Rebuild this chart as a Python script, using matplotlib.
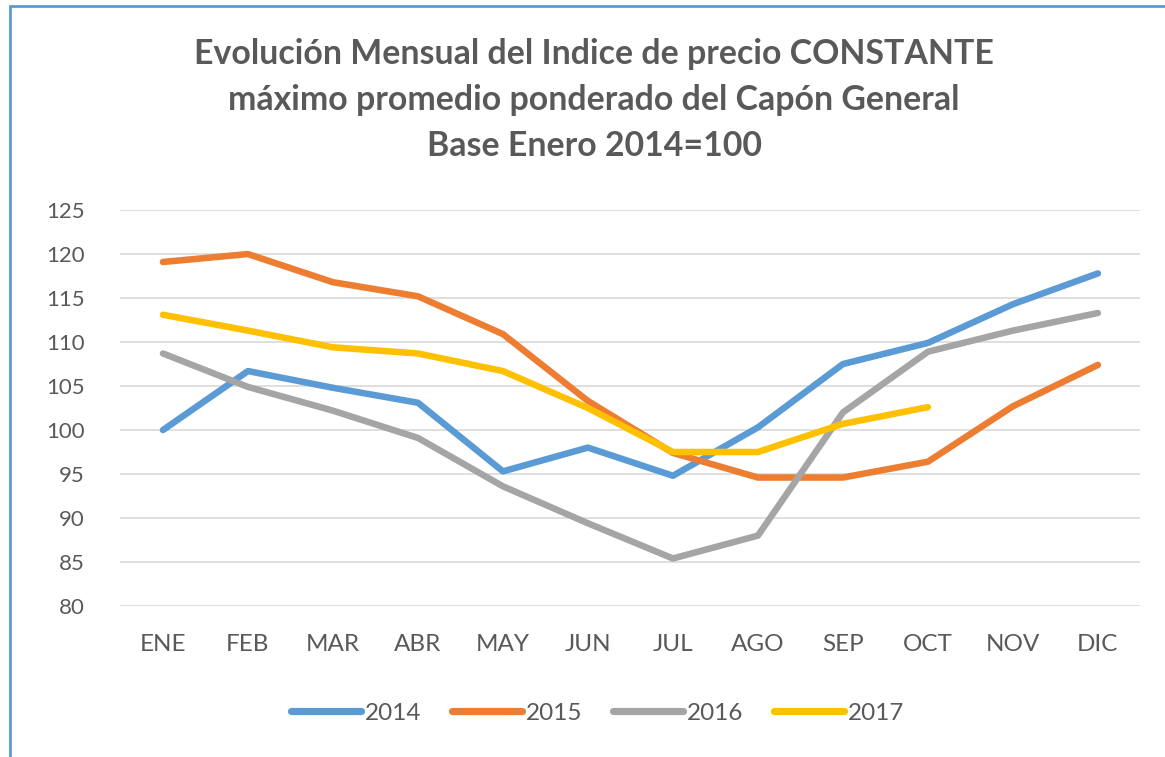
import matplotlib
matplotlib.use("Agg")
import matplotlib.pyplot as plt
from matplotlib.patches import Rectangle
import numpy as np

months = ["ENE", "FEB", "MAR", "ABR", "MAY", "JUN", "JUL", "AGO", "SEP", "OCT", "NOV", "DIC"]
y2014 = [100.0, 106.7, 104.8, 103.1, 95.3, 98.0, 94.8, 100.3, 107.5, 109.9, 114.3, 117.8]
y2015 = [119.1, 120.0, 116.8, 115.2, 110.9, 103.3, 97.4, 94.6, 94.6, 96.4, 102.7, 107.4]
y2016 = [108.7, 104.9, 102.2, 99.1, 93.6, 89.4, 85.4, 88.0, 102.0, 108.9, 111.3, 113.3]
y2017 = [113.1, 111.3, 109.4, 108.7, 106.7, 102.5, 97.5, 97.5, 100.7, 102.6]
yticks = [80, 85, 90, 95, 100, 105, 110, 115, 120, 125]

plt.rcParams['font.family'] = ['Lato', 'DejaVu Sans']
text_color = '#595959'

fig = plt.figure(figsize=(11.65, 7.57), dpi=100)
ax = fig.add_axes([0.1034, 0.1995, 0.8755, 0.523])

x = np.arange(len(months))
series = [
    ("2014", y2014, '#5B9BD5'),
    ("2015", y2015, '#ED7D31'),
    ("2016", y2016, '#A5A5A5'),
    ("2017", y2017, '#FFC000'),
]
for name, vals, col in series:
    ax.plot(x[:len(vals)], vals, color=col, lw=4.7, label=name,
            solid_capstyle='round', solid_joinstyle='round')

ax.set_xlim(-0.5, 11.5)
ax.set_ylim(80, 125)
ax.set_yticks(yticks)
ax.set_xticks(x)
ax.set_xticklabels(months)
ax.grid(axis='y', color='#D9D9D9', lw=1.2)
ax.set_axisbelow(True)
for s in ax.spines.values():
    s.set_visible(False)
ax.tick_params(length=0, colors=text_color)
ax.tick_params(axis='y', pad=26, labelsize=16)
ax.tick_params(axis='x', pad=20, labelsize=17.5)

fig.text(0.51, 1 - 100 / 757, "Evolución Mensual del Indice de precio CONSTANTE\n"
         "máximo promedio ponderado del Capón General\nBase Enero 2014=100",
         ha='center', va='center', fontsize=24.4, fontweight='bold',
         color=text_color, linespacing=1.52)

leg = fig.legend(loc='center', bbox_to_anchor=(0.513, 1 - 713 / 757), ncol=4, frameon=False,
                 fontsize=17.5, handlelength=2.9, handletextpad=0.15, columnspacing=1.25)
for t in leg.get_texts():
    t.set_color(text_color)
for h in leg.get_lines():
    h.set_linewidth(5.2)

# blue frame around the chart (cut at right and bottom)
fig.patches.append(Rectangle((10 / 1165, -0.1), 1.2, 1.1 - 6 / 757,
                             transform=fig.transFigure, fill=False,
                             edgecolor='#5B9BD5', lw=2))

fig.savefig("out.png", dpi=100)
